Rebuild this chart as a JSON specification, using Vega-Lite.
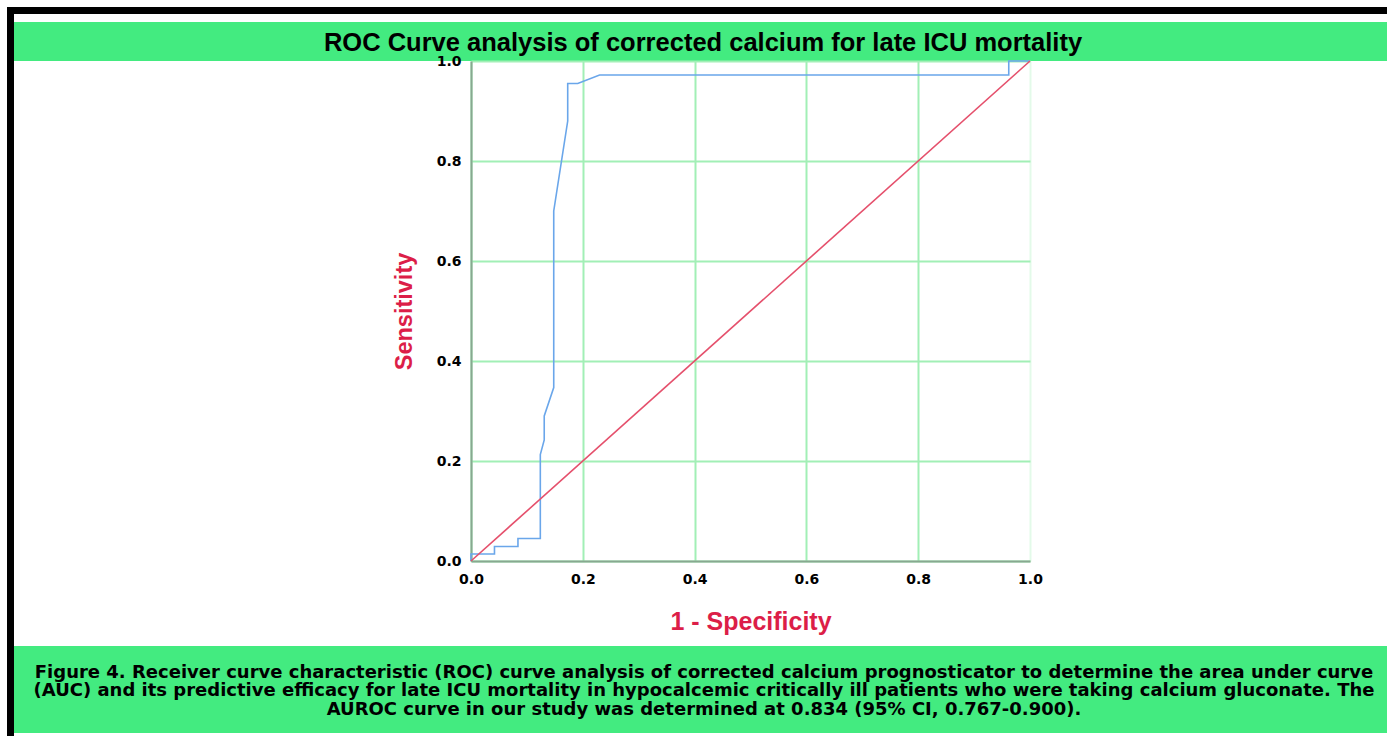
{
  "$schema": "https://vega.github.io/schema/vega-lite/v6.json",
  "padding": {"left": 7, "top": 4, "right": 0, "bottom": 0},
  "background": "white",
  "config": {"concat": {"spacing": 0}, "view": {"stroke": null}},
  "datasets": {
    "blank": [{}],
    "roc": [
      {"i": 0, "fpr": 0.0, "tpr": 0.0},
      {"i": 1, "fpr": 0.0, "tpr": 0.014},
      {"i": 2, "fpr": 0.042, "tpr": 0.014},
      {"i": 3, "fpr": 0.042, "tpr": 0.029},
      {"i": 4, "fpr": 0.084, "tpr": 0.029},
      {"i": 5, "fpr": 0.084, "tpr": 0.045},
      {"i": 6, "fpr": 0.124, "tpr": 0.045},
      {"i": 7, "fpr": 0.124, "tpr": 0.213},
      {"i": 8, "fpr": 0.131, "tpr": 0.242},
      {"i": 9, "fpr": 0.131, "tpr": 0.29},
      {"i": 10, "fpr": 0.148, "tpr": 0.347},
      {"i": 11, "fpr": 0.148, "tpr": 0.7},
      {"i": 12, "fpr": 0.173, "tpr": 0.88},
      {"i": 13, "fpr": 0.173, "tpr": 0.955},
      {"i": 14, "fpr": 0.191, "tpr": 0.955},
      {"i": 15, "fpr": 0.23, "tpr": 0.972},
      {"i": 16, "fpr": 0.962, "tpr": 0.972},
      {"i": 17, "fpr": 0.962, "tpr": 1.0},
      {"i": 18, "fpr": 1.0, "tpr": 1.0}
    ],
    "ref": [{"fpr": 0, "tpr": 0}, {"fpr": 1, "tpr": 1}],
    "heading": [{"t": "ROC Curve analysis of corrected calcium for late ICU mortality"}],
    "caption": [{"t": "Figure 4. Receiver curve characteristic (ROC) curve analysis of corrected calcium prognosticator to determine the area under curve\n(AUC) and its predictive efficacy for late ICU mortality in hypocalcemic critically ill patients who were taking calcium gluconate. The\nAUROC curve in our study was determined at 0.834 (95% CI, 0.767-0.900)."}]
  },
  "bounds": "flush",
  "spacing": 0,
  "columns": 3,
  "concat": [
    {"width": 7, "height": 7, "data": {"name": "blank"}, "mark": "text", "encoding": {"text": {"value": ""}}, "view": {"fill": "black", "stroke": null}},
    {"width": 457, "height": 7, "data": {"name": "blank"}, "mark": "text", "encoding": {"text": {"value": ""}}, "view": {"fill": "black", "stroke": null}},
    {"width": 916, "height": 7, "data": {"name": "blank"}, "mark": "text", "encoding": {"text": {"value": ""}}, "view": {"fill": "black", "stroke": null}},

    {"width": 7, "height": 8, "data": {"name": "blank"}, "mark": "text", "encoding": {"text": {"value": ""}}, "view": {"fill": "black", "stroke": null}},
    {"width": 457, "height": 8, "data": {"name": "blank"}, "mark": "text", "encoding": {"text": {"value": ""}}},
    {"width": 916, "height": 8, "data": {"name": "blank"}, "mark": "text", "encoding": {"text": {"value": ""}}},

    {"width": 7, "height": 39, "data": {"name": "blank"}, "mark": "text", "encoding": {"text": {"value": ""}}, "view": {"fill": "black", "stroke": null}},
    {"width": 457, "height": 39, "data": {"name": "blank"}, "mark": "text", "encoding": {"text": {"value": ""}}, "view": {"fill": "#43EB80", "stroke": null}},
    {
      "width": 916, "height": 39,
      "data": {"name": "heading"},
      "mark": {"type": "text", "font": "Liberation Sans", "fontWeight": "bold", "fontSize": 25.5, "color": "black", "align": "center", "baseline": "middle", "dx": -226, "dy": 1},
      "encoding": {"text": {"field": "t"}},
      "view": {"fill": "#43EB80", "stroke": null}
    },

    {"width": 7, "height": 500, "data": {"name": "blank"}, "mark": "text", "encoding": {"text": {"value": ""}}, "view": {"fill": "black", "stroke": null}},
    {"width": 457, "height": 500, "data": {"name": "blank"}, "mark": "text", "encoding": {"text": {"value": ""}}},
    {
      "width": 559, "height": 500,
      "layer": [
        {
          "data": {"name": "roc"},
          "mark": {"type": "line", "color": "#6aa6ea", "strokeWidth": 1.6},
          "encoding": {
            "x": {
              "field": "fpr", "type": "quantitative",
              "scale": {"domain": [0, 1], "nice": false},
              "axis": {
                "title": "1 - Specificity",
                "values": [0, 0.2, 0.4, 0.6, 0.8, 1],
                "format": ".1f",
                "labelFlush": false,
                "labelFont": "DejaVu Sans", "labelFontWeight": "bold", "labelFontSize": 14, "labelColor": "black",
                "labelPadding": 11, "ticks": false, "tickSize": 0,
                "domainColor": "#88a890", "domainWidth": 2,
                "gridColor": "#a2efb6", "gridWidth": 2,
                "gridOpacity": {"condition": {"test": "datum.value == 1", "value": 0.3}, "value": 1},
                "titleFont": "Liberation Sans", "titleFontWeight": "bold", "titleFontSize": 25, "titleColor": "#DC1E48",
                "titlePadding": 23
              }
            },
            "y": {
              "field": "tpr", "type": "quantitative",
              "scale": {"domain": [0, 1], "nice": false},
              "axis": {
                "title": "Sensitivity",
                "values": [0, 0.2, 0.4, 0.6, 0.8, 1],
                "format": ".1f",
                "labelFlush": false,
                "labelFont": "DejaVu Sans", "labelFontWeight": "bold", "labelFontSize": 14, "labelColor": "black",
                "labelPadding": 10, "ticks": false, "tickSize": 0,
                "domainColor": "#88a890", "domainWidth": 2,
                "gridColor": "#a2efb6", "gridWidth": 2,
                "titleFont": "Liberation Sans", "titleFontWeight": "bold", "titleFontSize": 23.5, "titleColor": "#DC1E48",
                "titlePadding": 20
              }
            },
            "order": {"field": "i", "type": "quantitative"}
          }
        },
        {
          "data": {"name": "ref"},
          "mark": {"type": "line", "color": "#e5506c", "strokeWidth": 1.6},
          "encoding": {
            "x": {"field": "fpr", "type": "quantitative"},
            "y": {"field": "tpr", "type": "quantitative"}
          }
        }
      ]
    },

    {"width": 7, "height": 85, "data": {"name": "blank"}, "mark": "text", "encoding": {"text": {"value": ""}}, "view": {"fill": "black", "stroke": null}},
    {"width": 457, "height": 85, "data": {"name": "blank"}, "mark": "text", "encoding": {"text": {"value": ""}}},
    {"width": 916, "height": 85, "data": {"name": "blank"}, "mark": "text", "encoding": {"text": {"value": ""}}},

    {"width": 7, "height": 93, "data": {"name": "blank"}, "mark": "text", "encoding": {"text": {"value": ""}}, "view": {"fill": "black", "stroke": null}},
    {"width": 457, "height": 87, "data": {"name": "blank"}, "mark": "text", "encoding": {"text": {"value": ""}}, "view": {"fill": "#43EB80", "stroke": null}},
    {
      "width": 916, "height": 87,
      "data": {"name": "caption"},
      "mark": {"type": "text", "font": "DejaVu Sans", "fontWeight": "bold", "fontSize": 18, "lineHeight": 18.3, "lineBreak": "\n", "color": "black", "align": "center", "baseline": "middle", "dx": -225, "dy": -16.5},
      "encoding": {"text": {"field": "t"}},
      "view": {"fill": "#43EB80", "stroke": null}
    }
  ]
}
